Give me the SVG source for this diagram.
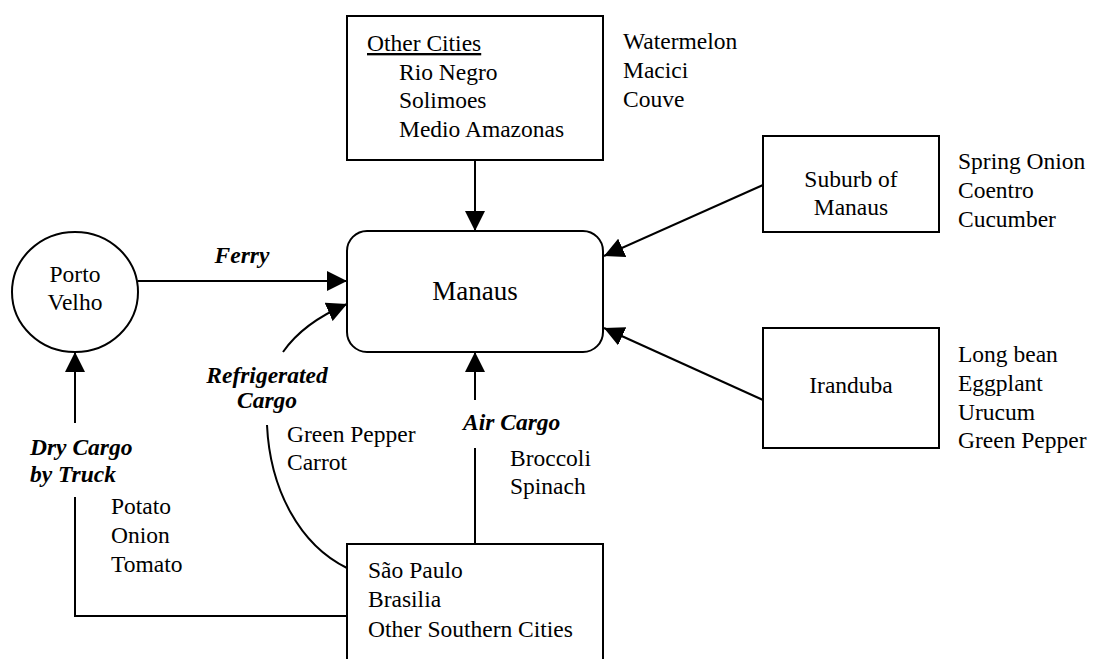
<svg xmlns="http://www.w3.org/2000/svg" width="1093" height="659" viewBox="0 0 1093 659">
  <style>
    .box { fill: #ffffff; stroke: #000000; stroke-width: 2; }
    .edge { fill: none; stroke: #000000; stroke-width: 2; }
    text { font-family: "Liberation Serif", "Times New Roman", serif; font-size: 23.5px; fill: #000000; }
    .mid { text-anchor: middle; }
    .lbl { font-weight: bold; font-style: italic; }
    .big { font-size: 27px; }
  </style>
  <defs>
    <marker id="arrow" markerUnits="userSpaceOnUse" viewBox="0 0 20 20" refX="20" refY="10" markerWidth="20" markerHeight="20" orient="auto">
      <path d="M0,0 L20,10 L0,20 Z" fill="#000000"/>
    </marker>
  </defs>

  <rect width="1093" height="659" fill="#ffffff"/>

  <!-- connectors -->
  <g id="connectors">
    <path class="edge" d="M475,160 L475,231" marker-end="url(#arrow)"/>
    <path class="edge" d="M138,281 L347,281" marker-end="url(#arrow)"/>
    <path class="edge" d="M763,185 L604,256" marker-end="url(#arrow)"/>
    <path class="edge" d="M763,400 L604,328" marker-end="url(#arrow)"/>
    <path class="edge" d="M475,544 L475,448"/>
    <path class="edge" d="M475,400 L475,352" marker-end="url(#arrow)"/>
    <path class="edge" d="M347,568 C300,545 270,490 267,425"/>
    <path class="edge" d="M283,352 Q303,323 347,304" marker-end="url(#arrow)"/>
    <path class="edge" d="M347,616 L75,616 L75,497"/>
    <path class="edge" d="M75,423 L75,352" marker-end="url(#arrow)"/>
  </g>

  <!-- connector labels -->
  <g id="edge-labels">
    <text class="lbl mid" x="242" y="263">Ferry</text>
    <text class="lbl mid" x="267" y="383">Refrigerated</text>
    <text class="lbl mid" x="267" y="408">Cargo</text>
    <text class="lbl" x="463" y="430">Air Cargo</text>
    <text class="lbl" x="30" y="455">Dry Cargo</text>
    <text class="lbl" x="30" y="482">by Truck</text>
  </g>

  <g id="node-other-cities">
    <rect class="box" x="347" y="16" width="256" height="144"/>
    <text x="367" y="51" text-decoration="underline">Other Cities</text>
    <text x="399" y="80">Rio Negro</text>
    <text x="399" y="108">Solimoes</text>
    <text x="399" y="137">Medio Amazonas</text>
  </g>

  <g id="node-manaus">
    <rect class="box" x="347" y="231" width="256" height="121" rx="20" ry="20"/>
    <text class="mid big" x="475" y="300">Manaus</text>
  </g>

  <g id="node-porto-velho">
    <ellipse class="box" cx="75" cy="292" rx="63" ry="60"/>
    <text class="mid" x="75" y="282">Porto</text>
    <text class="mid" x="75" y="310">Velho</text>
  </g>

  <g id="node-suburb">
    <rect class="box" x="763" y="136" width="176" height="96"/>
    <text class="mid" x="851" y="187">Suburb of</text>
    <text class="mid" x="851" y="215">Manaus</text>
  </g>

  <g id="node-iranduba">
    <rect class="box" x="763" y="328" width="176" height="120"/>
    <text class="mid" x="851" y="393">Iranduba</text>
  </g>

  <g id="node-southern">
    <rect class="box" x="347" y="544" width="256" height="130"/>
    <text x="368" y="578">São Paulo</text>
    <text x="368" y="607">Brasilia</text>
    <text x="368" y="637">Other Southern Cities</text>
  </g>

  <!-- produce lists -->
  <g id="produce">
    <text x="623" y="49">Watermelon</text>
    <text x="623" y="78">Macici</text>
    <text x="623" y="107">Couve</text>

    <text x="958" y="169">Spring Onion</text>
    <text x="958" y="198">Coentro</text>
    <text x="958" y="227">Cucumber</text>

    <text x="958" y="362">Long bean</text>
    <text x="958" y="391">Eggplant</text>
    <text x="958" y="420">Urucum</text>
    <text x="958" y="448">Green Pepper</text>

    <text x="287" y="442">Green Pepper</text>
    <text x="287" y="470">Carrot</text>

    <text x="510" y="466">Broccoli</text>
    <text x="510" y="494">Spinach</text>

    <text x="111" y="514">Potato</text>
    <text x="111" y="543">Onion</text>
    <text x="111" y="572">Tomato</text>
  </g>
</svg>
